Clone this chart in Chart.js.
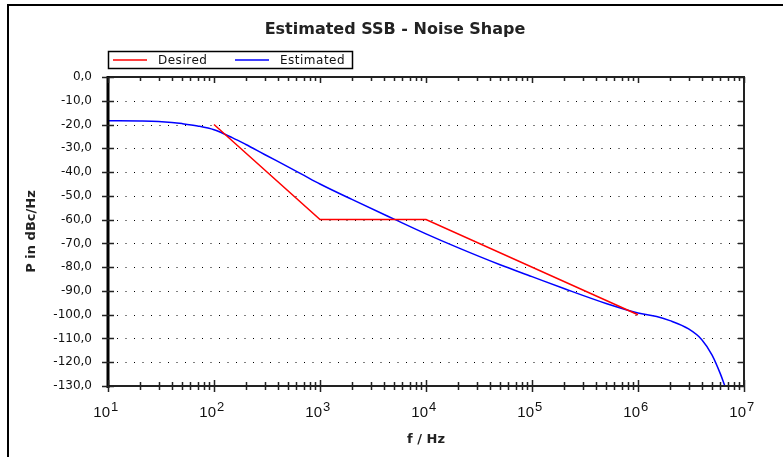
<!DOCTYPE html>
<html>
<head>
<meta charset="utf-8">
<script src="https://cdn.jsdelivr.net/npm/chart.js@4.4.1/dist/chart.umd.min.js"></script>
<style>
  html, body { margin: 0; padding: 0; background: #fff; }
  #wrap { width: 783px; height: 457px; position: relative; }
</style>
</head>
<body>
<div id="wrap"><canvas id="chart"></canvas></div>
<script>
// Desired noise mask (corner points)
const desiredFreq = [100, 1000, 10000, 1000000];
const desiredLevel = [-20, -60, -60, -100];

// Estimated curve
const estFreq = [10, 20, 30, 40, 50, 70, 100, 150, 200, 300, 500, 700, 1000, 2000, 5000,
  10000, 20000, 50000, 100000, 200000, 500000, 1000000, 1500000, 2000000, 3000000,
  4000000, 5000000, 6000000, 6600000];
const estLevel = [-18.4, -18.5, -18.7, -19.1, -19.6, -20.6, -22.2, -25.6, -28.4, -32.6, -37.8,
  -41.3, -45, -51.5, -59.8, -66, -71.8, -79, -84, -89, -95.3, -99.3, -100.8, -102.5, -106,
  -110.5, -117, -125, -130];

const yTicks = [0, -10, -20, -30, -40, -50, -60, -70, -80, -90, -100, -110, -120, -130];
const xDecades = [1e1, 1e2, 1e3, 1e4, 1e5, 1e6, 1e7];

const toPts = (fs, vs) => fs.map((f, i) => ({ x: f, y: vs[i] }));

const decor = {
  id: 'decor',
  beforeDatasetsDraw(chart) {
    const { ctx, chartArea: a, scales: { y } } = chart;
    ctx.save();
    ctx.strokeStyle = '#000';
    ctx.lineWidth = 1;
    ctx.setLineDash([1, 7.5]);
    yTicks.forEach(v => {
      if (v === 0 || v === -130) return;
      const py = Math.round(y.getPixelForValue(v)) + 0.5;
      ctx.beginPath();
      ctx.moveTo(a.left + 9, py);
      ctx.lineTo(a.right - 2, py);
      ctx.stroke();
    });
    ctx.restore();
  },
  afterDatasetsDraw(chart) {
    const { ctx, chartArea: a, scales: { x, y } } = chart;
    ctx.save();

    // outer frame
    ctx.strokeStyle = '#000';
    ctx.lineWidth = 2;
    ctx.strokeRect(8, 5, 800, 480);

    // plot box
    ctx.strokeStyle = '#222';
    ctx.lineWidth = 2;
    ctx.beginPath();
    ctx.moveTo(a.left, a.top); ctx.lineTo(a.right, a.top); ctx.lineTo(a.right, a.bottom);
    ctx.lineTo(a.left, a.bottom);
    ctx.stroke();
    ctx.strokeStyle = '#000';
    ctx.lineWidth = 3;
    ctx.beginPath();
    ctx.moveTo(a.left, a.top - 1); ctx.lineTo(a.left, a.bottom + 2);
    ctx.stroke();

    // x ticks: majors and minors, bottom crossing, top inward
    ctx.strokeStyle = '#222';
    ctx.lineWidth = 1.5;
    for (let d = 0; d < xDecades.length; d++) {
      const base = xDecades[d];
      for (let m = 1; m < 10; m++) {
        if (d === xDecades.length - 1 && m > 1) break;
        const px = Math.round(x.getPixelForValue(base * m)) + 0.5;
        const major = m === 1;
        ctx.beginPath();
        ctx.moveTo(px, a.bottom - (major ? 6 : 4));
        ctx.lineTo(px, a.bottom + (major ? 6 : 4));
        ctx.moveTo(px, a.top);
        ctx.lineTo(px, a.top + (major ? 6 : 4));
        ctx.stroke();
      }
    }

    // y ticks: left crossing, right inward
    yTicks.forEach(v => {
      const py = Math.round(y.getPixelForValue(v)) + 0.5;
      ctx.beginPath();
      ctx.moveTo(a.left - 6, py); ctx.lineTo(a.left + 6, py);
      ctx.moveTo(a.right - 6, py); ctx.lineTo(a.right, py);
      ctx.stroke();
    });

    // y labels
    ctx.fillStyle = '#111';
    ctx.font = '12px "DejaVu Sans"';
    ctx.textAlign = 'right';
    ctx.textBaseline = 'middle';
    yTicks.forEach(v => {
      ctx.fillText(v.toFixed(1).replace('.', ','), a.left - 16, y.getPixelForValue(v));
    });

    // x labels 10^n
    ctx.textBaseline = 'alphabetic';
    xDecades.forEach(v => {
      const px = x.getPixelForValue(v);
      ctx.font = '15px "Liberation Sans"';
      ctx.textAlign = 'right';
      ctx.fillText('10', px + 2, a.bottom + 31);
      ctx.font = '13px "Liberation Sans"';
      ctx.textAlign = 'left';
      ctx.fillText(String(Math.round(Math.log10(v))), px + 3, a.bottom + 25);
    });

    // axis titles
    ctx.fillStyle = '#222';
    ctx.font = 'bold 13px "DejaVu Sans"';
    ctx.textAlign = 'center';
    ctx.fillText('f / Hz', (a.left + a.right) / 2, a.bottom + 57);
    ctx.save();
    ctx.translate(35, (a.top + a.bottom) / 2);
    ctx.rotate(-Math.PI / 2);
    ctx.fillText('P in dBc/Hz', 0, 0);
    ctx.restore();

    // title
    ctx.font = 'bold 16px "DejaVu Sans"';
    ctx.fillText('Estimated SSB - Noise Shape', 395, 34);

    // legend box
    ctx.strokeStyle = '#000';
    ctx.lineWidth = 1.5;
    ctx.strokeRect(108.5, 51.5, 244, 17);
    const slots = [113, 235];
    chart.data.datasets.forEach((ds, i) => {
      const lx = slots[i];
      ctx.strokeStyle = ds.borderColor;
      ctx.lineWidth = 1.5;
      ctx.beginPath();
      ctx.moveTo(lx, 60); ctx.lineTo(lx + 34, 60);
      ctx.stroke();
      ctx.fillStyle = '#111';
      ctx.font = '12px "DejaVu Sans"';
      ctx.textAlign = 'left';
      ctx.textBaseline = 'middle';
      ctx.letterSpacing = '0.5px';
      ctx.fillText(ds.label, lx + 45, 60.5);
      ctx.letterSpacing = '0px';
    });

    ctx.restore();
  }
};

new Chart(document.getElementById('chart'), {
  type: 'line',
  data: {
    datasets: [
      { label: 'Desired', data: toPts(desiredFreq, desiredLevel), borderColor: '#ff0000',
        borderWidth: 1.5, pointRadius: 0, tension: 0 },
      { label: 'Estimated', data: toPts(estFreq, estLevel), borderColor: '#0000ff',
        borderWidth: 1.5, pointRadius: 0, cubicInterpolationMode: 'monotone' }
    ]
  },
  options: {
    responsive: true,
    maintainAspectRatio: false,
    animation: false,
    layout: { padding: { left: 108, top: 77, right: 39, bottom: 71 } },
    plugins: { legend: { display: false }, title: { display: false }, tooltip: { enabled: false } },
    scales: {
      x: { type: 'logarithmic', min: 10, max: 1e7, display: false },
      y: { type: 'linear', min: -130, max: 0, display: false }
    }
  },
  plugins: [decor]
});
</script>
</body>
</html>
